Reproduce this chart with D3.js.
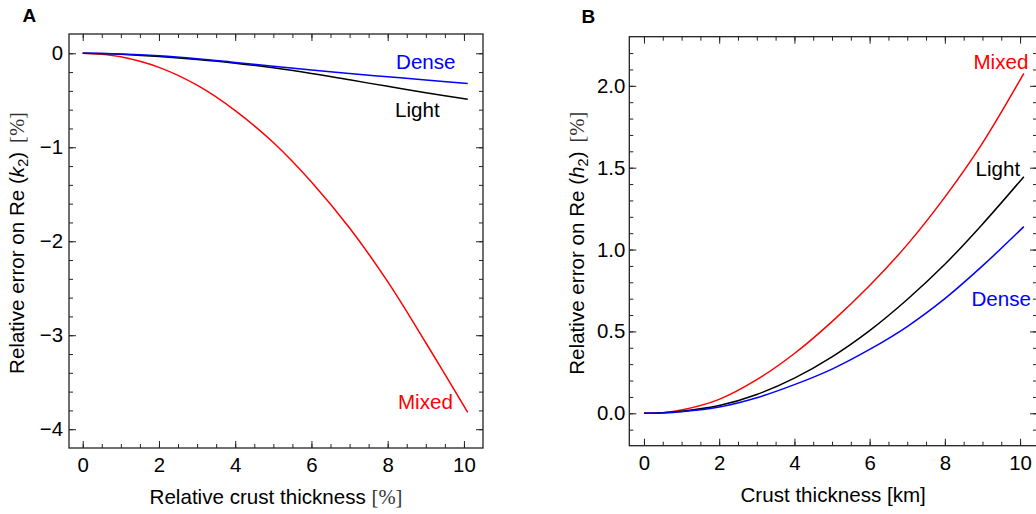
<!DOCTYPE html>
<html><head><meta charset="utf-8">
<script src="https://cdn.jsdelivr.net/npm/d3@7"></script>
<style>
body{margin:0;background:#fff;}
text{font-family:"Liberation Sans",Arial,sans-serif;}
</style></head>
<body>
<svg id="chart" width="1036" height="514"></svg>
<script>
// ---- Panel A data (relative crust thickness [%] vs relative error on Re(k2) [%])
const xA = [0, 0.5, 1, 2, 3, 4, 5, 6, 7, 8, 9, 10.1];
const mixedA = [0, -0.01, -0.038, -0.15, -0.34, -0.61, -0.95, -1.37, -1.86, -2.43, -3.08, -3.82];
const lightA = [0, -0.003, -0.011, -0.035, -0.066, -0.105, -0.155, -0.215, -0.283, -0.352, -0.42, -0.49];
const denseA = [0, -0.002, -0.007, -0.027, -0.058, -0.097, -0.137, -0.178, -0.215, -0.25, -0.285, -0.322];
// ---- Panel B data (crust thickness [km] vs relative error on Re(h2) [%])
const xB = [0, 0.5, 1, 2, 3, 4, 5, 6, 7, 8, 9, 10.1];
const mixedB = [0, 0.004, 0.02, 0.085, 0.205, 0.365, 0.56, 0.78, 1.03, 1.32, 1.65, 2.076];
const lightB = [0, 0.003, 0.012, 0.047, 0.115, 0.215, 0.345, 0.505, 0.695, 0.91, 1.155, 1.445];
const denseB = [0, 0.002, 0.009, 0.038, 0.095, 0.175, 0.27, 0.39, 0.53, 0.70, 0.90, 1.14];
// ---- ticks
const xTicksA = [0, 2, 4, 6, 8, 10];
const yTicksA = [0, -1, -2, -3, -4];
const xTicksB = [0, 2, 4, 6, 8, 10];
const yTicksB = [0.0, 0.5, 1.0, 1.5, 2.0];
const seriesNames = ["Mixed", "Light", "Dense"];
const seriesColors = ["#ff0000", "#000000", "#0000ff"];
// label anchor positions in data units
const labelPosA = [[8.99, -3.784], [8.78, -0.678], [9.0, -0.172]];
const labelPosB = [[9.49, 2.10], [9.41, 1.45], [9.5, 0.655]];

const svg = d3.select("#chart");
const FS = 20.6;

function range(a, b, s) { const r = []; for (let v = a; v <= b + 1e-9; v += s) r.push(+v.toFixed(6)); return r; }

function panel(cfg) {
  const g = svg.append("g");
  const x = d3.scaleLinear().domain(cfg.xDom).range([cfg.left, cfg.right]);
  const y = d3.scaleLinear().domain(cfg.yDom).range([cfg.bottom, cfg.top]);
  const inside = (s, v, a, b) => { const p = s(v); return p > Math.min(a, b) + 2 && p < Math.max(a, b) - 2; };
  const xMinor = range(cfg.xMinor[0], cfg.xMinor[1], cfg.xMinor[2]).filter(v => inside(x, v, cfg.left, cfg.right));
  const yMinor = range(cfg.yMinor[0], cfg.yMinor[1], cfg.yMinor[2]).filter(v => inside(y, v, cfg.top, cfg.bottom));
  const style = sel => { sel.select(".domain").remove(); sel.selectAll("line").attr("stroke", "#222").attr("stroke-width", 1); sel.selectAll("text").attr("font-size", 20.4).attr("fill", "#000").attr("font-family", "Liberation Sans, Arial, sans-serif"); };

  // minor ticks
  g.append("g").attr("transform", `translate(0,${cfg.bottom})`).call(d3.axisBottom(x).tickValues(xMinor).tickSize(-4).tickFormat("")).call(style);
  g.append("g").attr("transform", `translate(0,${cfg.top})`).call(d3.axisTop(x).tickValues(xMinor).tickSize(-4).tickFormat("")).call(style);
  g.append("g").attr("transform", `translate(${cfg.left},0)`).call(d3.axisLeft(y).tickValues(yMinor).tickSize(-4).tickFormat("")).call(style);
  g.append("g").attr("transform", `translate(${cfg.right},0)`).call(d3.axisRight(y).tickValues(yMinor).tickSize(-4).tickFormat("")).call(style);
  // major ticks
  g.append("g").attr("transform", `translate(0,${cfg.bottom})`).call(d3.axisBottom(x).tickValues(cfg.xTicks).tickSize(-7).tickPadding(9.5).tickFormat(d3.format("d"))).call(style);
  g.append("g").attr("transform", `translate(0,${cfg.top})`).call(d3.axisTop(x).tickValues(cfg.xTicks).tickSize(-7).tickFormat("")).call(style);
  g.append("g").attr("transform", `translate(${cfg.left},0)`).call(d3.axisLeft(y).tickValues(cfg.yTicks).tickSize(-7).tickPadding(cfg.yPad).tickFormat(cfg.yFmt)).call(style);
  g.append("g").attr("transform", `translate(${cfg.right},0)`).call(d3.axisRight(y).tickValues(cfg.yTicks).tickSize(-7).tickFormat("")).call(style);

  // frame
  g.append("rect").attr("x", cfg.left).attr("y", cfg.top).attr("width", cfg.right - cfg.left).attr("height", cfg.bottom - cfg.top)
    .attr("fill", "none").attr("stroke", "#222").attr("stroke-width", 1.3);

  // curves
  const line = d3.line().x(d => x(d[0])).y(d => y(d[1])).curve(d3.curveCatmullRom.alpha(0.5));
  cfg.series.forEach((vals, i) => {
    g.append("path").datum(cfg.xs.map((v, j) => [v, vals[j]]))
      .attr("d", line).attr("fill", "none").attr("stroke", seriesColors[i]).attr("stroke-width", 1.5);
    g.append("text").attr("x", x(cfg.labels[i][0])).attr("y", y(cfg.labels[i][1]))
      .attr("text-anchor", "middle").attr("font-size", FS).attr("fill", seriesColors[i]).text(seriesNames[i]);
  });

  // panel letter
  g.append("text").attr("x", cfg.letterX).attr("y", cfg.letterY).attr("font-size", 19).attr("font-weight", "bold").text(cfg.letter);

  // x title
  const xt = g.append("text").attr("x", (cfg.left + cfg.right) / 2).attr("y", cfg.xTitleY).attr("text-anchor", "middle").attr("font-size", FS);
  cfg.xTitle(xt);
  // y title
  const yt = g.append("text").attr("transform", `translate(${cfg.yTitleX},${(cfg.top + cfg.bottom) / 2 + 2}) rotate(-90)`).attr("text-anchor", "middle").attr("font-size", FS);
  yt.append("tspan").text("Relative error on Re (");
  yt.append("tspan").attr("font-style", "italic").text(cfg.sym);
  yt.append("tspan").attr("font-size", 14.5).attr("dy", 4).text("2");
  yt.append("tspan").attr("dy", -4).text(")");
  yt.append("tspan").attr("font-family", "Liberation Serif, serif").attr("fill", "#333").attr("dx", 9).text("[%]");
}

panel({
  left: 69, right: 483, top: 34, bottom: 448,
  xDom: [-0.36, 10.5], yDom: [-4.2, 0.205],
  xTicks: xTicksA, yTicks: yTicksA, xMinor: [0, 10.5, 0.5], yMinor: [-4.2, 0.2, 0.2],
  yFmt: d3.format("d"), yPad: 6,
  xs: xA, series: [mixedA, lightA, denseA], labels: labelPosA,
  letter: "A", letterX: 22.5, letterY: 21.7,
  xTitleY: 504, yTitleX: 24, sym: "k",
  xTitle: t => { t.append("tspan").text("Relative crust thickness "); t.append("tspan").attr("font-family", "Liberation Serif, serif").attr("fill", "#333").text("[%]"); }
});

panel({
  left: 629.3, right: 1037, top: 36.7, bottom: 445.7,
  xDom: [-0.39, 10.45], yDom: [-0.198, 2.3],
  xTicks: xTicksB, yTicks: yTicksB, xMinor: [0, 10.5, 0.5], yMinor: [-0.1, 2.3, 0.1],
  yFmt: d3.format(".1f"), yPad: 4,
  xs: xB, series: [mixedB, lightB, denseB], labels: labelPosB,
  letter: "B", letterX: 581.5, letterY: 23.3,
  xTitleY: 501.5, yTitleX: 584, sym: "h",
  xTitle: t => { t.text("Crust thickness [km]"); }
});
</script>
</body></html>
